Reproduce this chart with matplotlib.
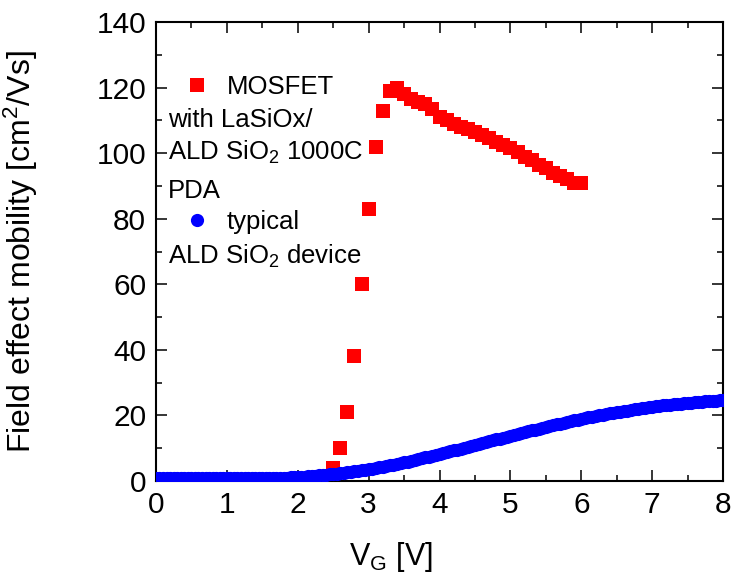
import numpy as np
import matplotlib
matplotlib.use("Agg")
import matplotlib.pyplot as plt
from matplotlib.ticker import MultipleLocator

plt.rcParams["font.family"] = ["Liberation Sans", "DejaVu Sans"]
plt.rcParams["mathtext.fontset"] = "custom"
plt.rcParams["mathtext.rm"] = "Liberation Sans"
plt.rcParams["mathtext.it"] = "Liberation Sans:italic"
plt.rcParams["mathtext.bf"] = "Liberation Sans:bold"

# MOSFET with LaSiOx / ALD SiO2, 1000C PDA
vg_mosfet = [2.5, 2.6, 2.7, 2.8, 2.9, 3.0, 3.1, 3.2, 3.3, 3.4, 3.5, 3.6,
             3.7, 3.8, 3.9, 4.0, 4.1, 4.2, 4.3, 4.4, 4.5, 4.6, 4.7, 4.8,
             4.9, 5.0, 5.1, 5.2, 5.3, 5.4, 5.5, 5.6, 5.7, 5.8, 5.9, 6.0]
mu_mosfet = [4, 10, 21, 38, 60, 83, 102, 113, 119, 120, 118, 116.5,
             115.5, 115, 113.5, 111, 110, 109, 108, 107.5, 106.5, 105.5, 104.5, 103.5,
             102.5, 101.5, 100.5, 99, 98, 96.5, 95.5, 94, 93, 92, 91, 91]

# typical ALD SiO2 device, gate sweep 0-8 V in 0.05 V steps
vg_typical = np.linspace(0.0, 8.0, 161)
mu_typical = [
    0.8, 0.8, 0.8, 0.8, 0.8, 0.8, 0.8, 0.8, 0.8, 0.8,
    0.8, 0.8, 0.8, 0.8, 0.8, 0.8, 0.8, 0.8, 0.8, 0.8,
    0.8, 0.8, 0.8, 0.8, 0.8, 0.85, 0.85, 0.85, 0.85, 0.85,
    0.85,
    0.9, 0.9, 0.95, 0.95, 1.0, 1.0, 1.05, 1.1, 1.1, 1.15,
    1.2, 1.3, 1.4, 1.5, 1.6, 1.7, 1.8, 1.9, 2.0, 2.1,
    2.25, 2.4, 2.55, 2.7, 2.85, 3.0, 3.15, 3.3, 3.45, 3.6,
    3.8, 4.0, 4.2, 4.4, 4.6, 4.8, 5.0, 5.2, 5.45, 5.7,
    5.95, 6.2, 6.45, 6.7, 6.95, 7.2, 7.45, 7.7, 7.95, 8.2,
    8.5, 8.8, 9.1, 9.35, 9.6, 9.9, 10.2, 10.45, 10.7, 11.0,
    11.3, 11.6, 11.85, 12.1, 12.4, 12.7, 12.95, 13.2, 13.5, 13.8,
    14.1, 14.35, 14.6, 14.9, 15.2, 15.45, 15.7, 16.0, 16.25, 16.5,
    16.75, 17.0, 17.25, 17.5, 17.75, 18.0, 18.25, 18.5, 18.75, 19.0,
    19.2, 19.4, 19.6, 19.8, 20.0, 20.2, 20.4, 20.6, 20.8, 21.0,
    21.2, 21.35, 21.5, 21.7, 21.85, 22.0, 22.15, 22.3, 22.5, 22.7,
    22.8, 22.95, 23.05, 23.2, 23.3, 23.4, 23.5, 23.6, 23.7, 23.8,
    23.9, 24.0, 24.1, 24.2, 24.3, 24.35, 24.45, 24.55, 24.6, 24.7,
]

x_ticks = [0, 1, 2, 3, 4, 5, 6, 7, 8]
y_ticks = [0, 20, 40, 60, 80, 100, 120, 140]

fig = plt.figure(figsize=(7.32, 5.82), dpi=100)
ax = fig.add_axes([0.213, 0.1735, 0.775, 0.7885])

ax.plot(vg_mosfet, mu_mosfet, linestyle="none", marker="s", markersize=9.5,
        color="#ff0000", markeredgewidth=0, zorder=3)
ax.plot(vg_typical, mu_typical, linestyle="none", marker="o", markersize=9.5,
        color="#0000ff", markeredgewidth=0, zorder=4)

ax.set_xlim(0, 8)
ax.set_ylim(0, 140)
ax.set_xticks(x_ticks)
ax.set_yticks(y_ticks)
ax.xaxis.set_minor_locator(MultipleLocator(0.5))
ax.yaxis.set_minor_locator(MultipleLocator(10))
ax.tick_params(which="both", direction="in", top=True, right=True, width=1.1)
ax.tick_params(which="major", length=8, labelsize=21.5, pad=7)
ax.tick_params(which="minor", length=4)
for s in ax.spines.values():
    s.set_linewidth(1.5)

ax.set_xlabel(r"V$_\mathregular{G}$ [V]", fontsize=22)
ax.set_ylabel(r"Field effect mobility [cm$^\mathregular{2}$/Vs]", fontsize=23)
ax.xaxis.set_label_coords(0.415, -0.128)
ax.yaxis.set_label_coords(-0.205, 0.5)

# legend keys and multi-line labels
fs = 18.5
ax.plot([0.072], [0.863], transform=ax.transAxes, marker="s", markersize=9.5,
        color="#ff0000", markeredgewidth=0, clip_on=False)
ax.plot([0.072], [0.569], transform=ax.transAxes, marker="o", markersize=9.5,
        color="#0000ff", markeredgewidth=0, clip_on=False)
ax.text(0.125, 0.863, "MOSFET", transform=ax.transAxes, fontsize=fs,
        va="center_baseline", ha="left")
ax.text(0.021, 0.793, "with LaSiOx/", transform=ax.transAxes, fontsize=fs,
        va="center_baseline", ha="left")
ax.text(0.021, 0.723, r"ALD SiO$_\mathregular{2}$ 1000C", transform=ax.transAxes,
        fontsize=fs, va="center_baseline", ha="left")
ax.text(0.021, 0.638, "PDA", transform=ax.transAxes, fontsize=fs,
        va="center_baseline", ha="left")
ax.text(0.125, 0.569, "typical", transform=ax.transAxes, fontsize=fs,
        va="center_baseline", ha="left")
ax.text(0.021, 0.497, r"ALD SiO$_\mathregular{2}$ device", transform=ax.transAxes,
        fontsize=fs, va="center_baseline", ha="left")

fig.savefig("out.png", dpi=100)
